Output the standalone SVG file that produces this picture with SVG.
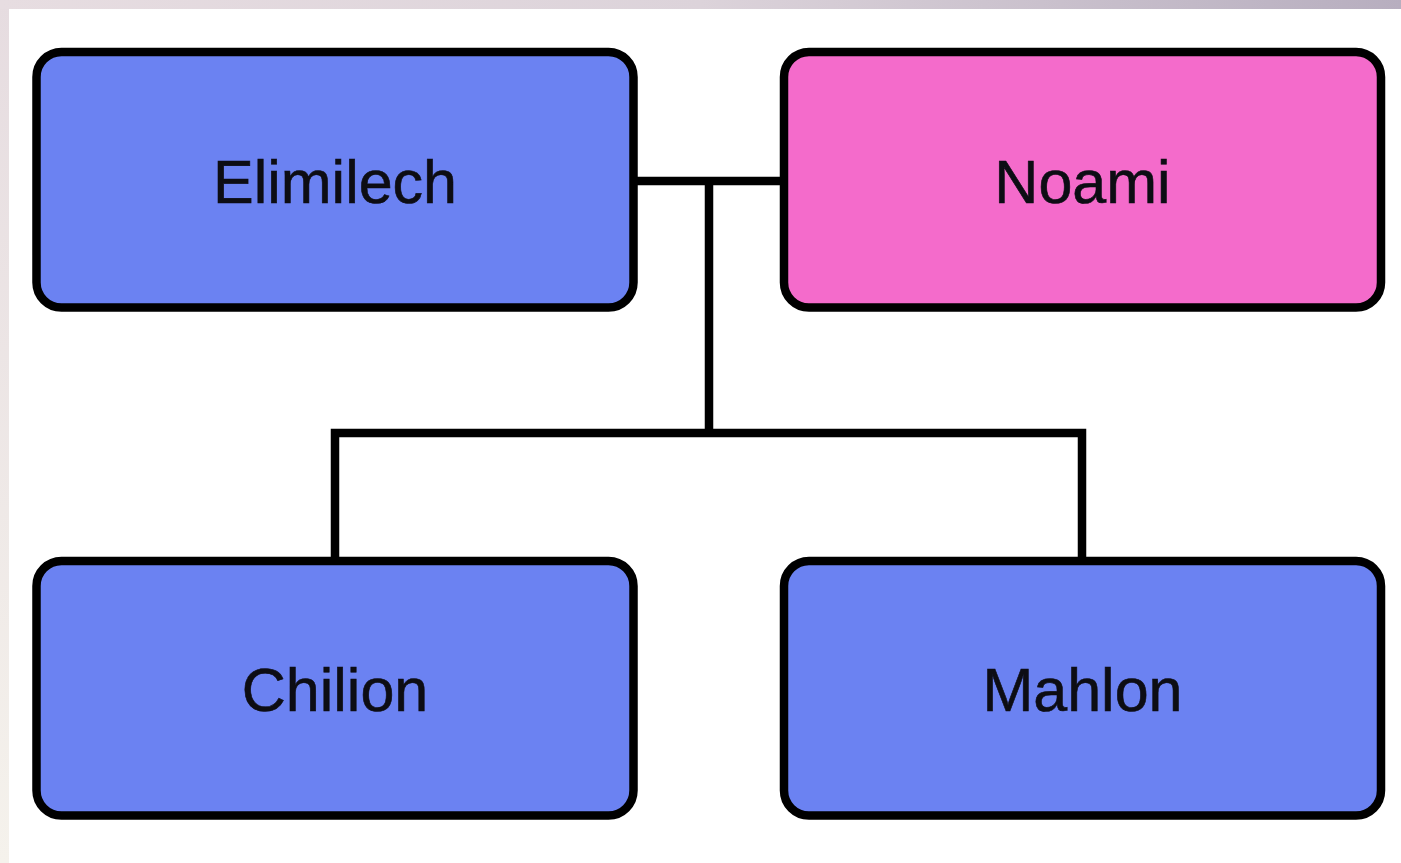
<svg xmlns="http://www.w3.org/2000/svg" width="1401" height="863" viewBox="0 0 1401 863">
<defs>
<linearGradient id="topg" x1="0" y1="0" x2="1" y2="0">
<stop offset="0" stop-color="#e7dde1"/>
<stop offset="0.5" stop-color="#dcd3da"/>
<stop offset="1" stop-color="#b7aebf"/>
</linearGradient>
<linearGradient id="leftg" x1="0" y1="0" x2="0" y2="1">
<stop offset="0" stop-color="#e6dce0"/>
<stop offset="1" stop-color="#f5f2ec"/>
</linearGradient>
<style>
.box{stroke:#000;stroke-width:8.5}
.blue{fill:#6b82f2}
.pink{fill:#f46bcb}
.lbl{font-family:"Liberation Sans",Arial,sans-serif;font-size:61px;fill:#0d0d14;text-anchor:middle;stroke:#0d0d14;stroke-width:0.6}
.conn{fill:none;stroke:#000;stroke-width:8.5;stroke-linejoin:miter;stroke-linecap:butt}
</style>
</defs>
<rect x="0" y="0" width="1401" height="863" fill="url(#leftg)"/>
<rect x="0" y="0" width="1401" height="9" fill="url(#topg)"/>
<rect x="9" y="9" width="1392" height="854" fill="#ffffff"/>
<g id="connectors">
<path class="conn" d="M633.5 181 H784"/>
<path class="conn" d="M709 181 V433"/>
<path class="conn" d="M335 561 V433 H1082 V561"/>
</g>
<g id="elimilech">
<rect class="box blue" x="36.5" y="52" width="597" height="255.5" rx="25"/>
<text class="lbl" x="335" y="203">Elimilech</text>
</g>
<g id="noami">
<rect class="box pink" x="784" y="52" width="597" height="255.5" rx="25"/>
<text class="lbl" x="1082.5" y="203">Noami</text>
</g>
<g id="chilion">
<rect class="box blue" x="36.5" y="561" width="597" height="254.5" rx="25"/>
<text class="lbl" x="335" y="711">Chilion</text>
</g>
<g id="mahlon">
<rect class="box blue" x="784" y="561" width="597" height="254.5" rx="25"/>
<text class="lbl" x="1082.5" y="711">Mahlon</text>
</g>
</svg>
